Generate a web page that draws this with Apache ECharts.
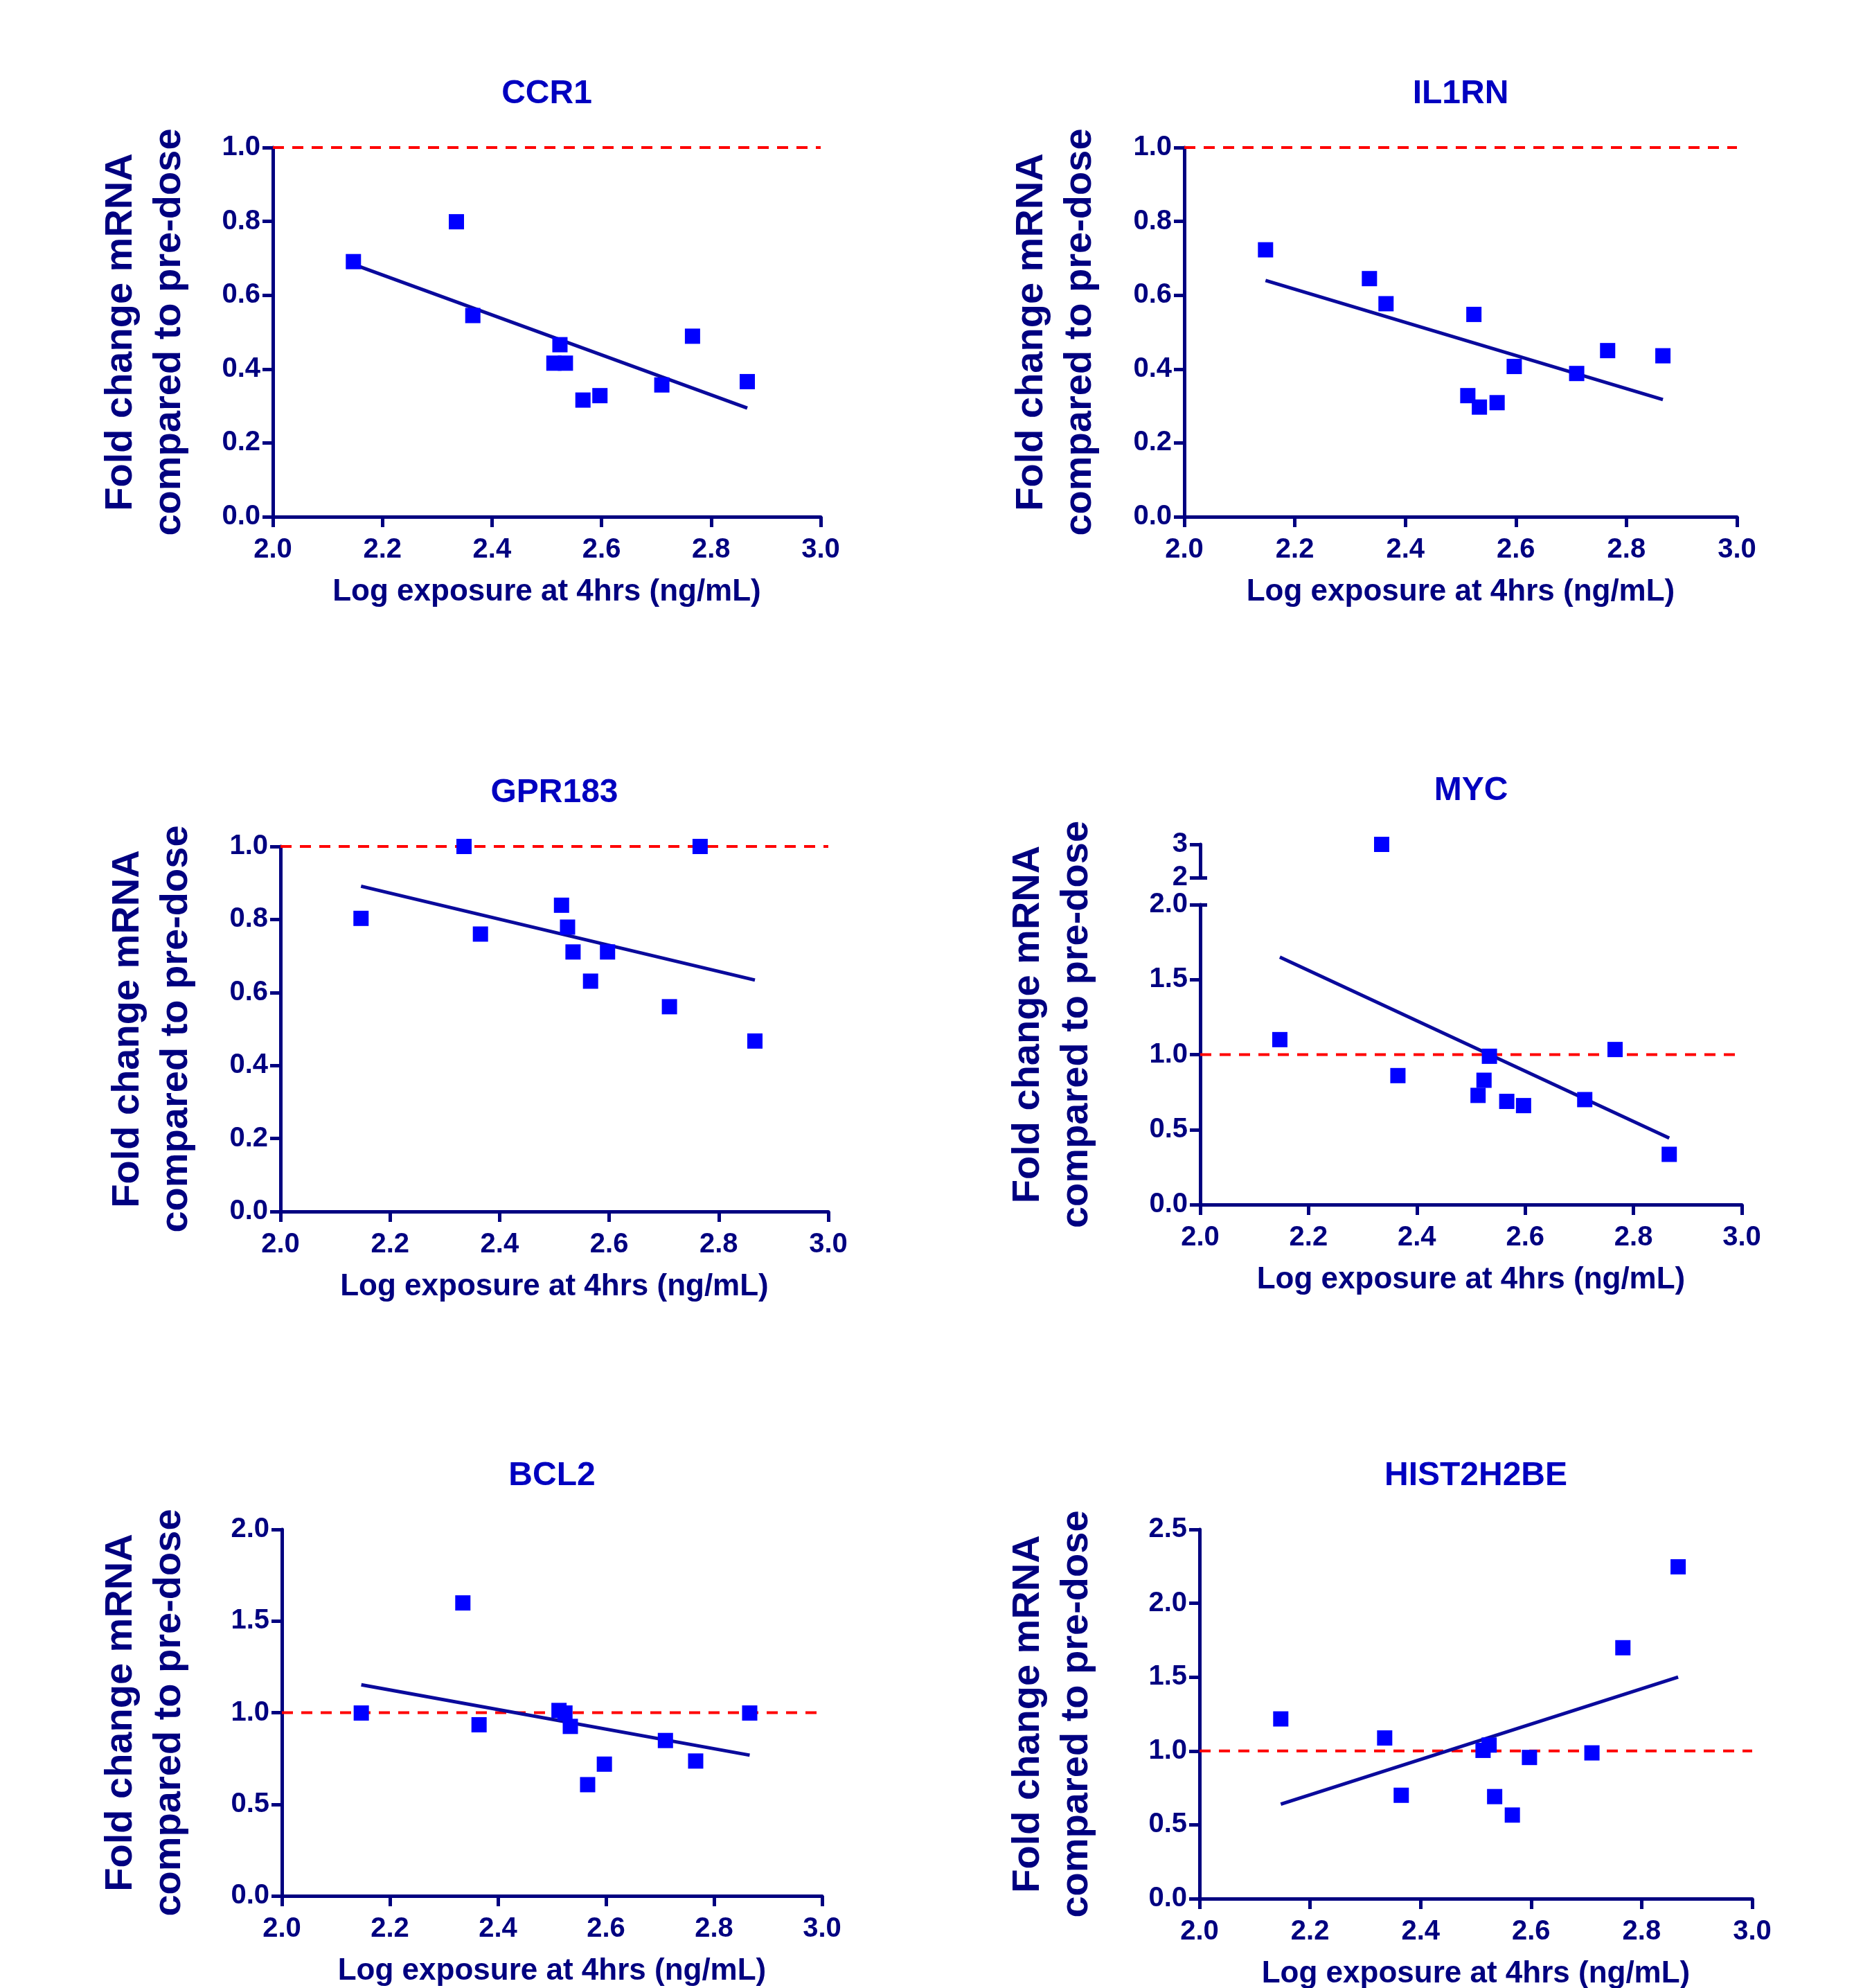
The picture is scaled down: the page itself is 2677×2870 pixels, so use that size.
<!DOCTYPE html>
<html>
<head>
<meta charset="utf-8">
<script src="https://cdn.jsdelivr.net/npm/echarts@6/dist/echarts.min.js"></script>
<style>
  html, body { margin: 0; padding: 0; background: #ffffff; }
  #chart { width: 2677px; height: 2870px; }
</style>
</head>
<body>
<div id="chart"></div>
<script>
// ---------------- DATA ----------------
const exposure = [2.147, 2.335, 2.365, 2.513, 2.524, 2.534, 2.566, 2.597, 2.710, 2.766, 2.866];
const ccr1     = [0.691, 0.799, 0.545, 0.416, 0.466, 0.416, 0.316, 0.328, 0.357, 0.489, 0.366];
const il1rn    = [0.723, 0.645, 0.577, 0.328, 0.548, 0.297, 0.309, 0.407, 0.388, 0.450, 0.436];
const gpr183   = [0.803, 1.000, 0.760, 0.839, 0.779, 0.711, 0.631, 0.711, 0.561, 1.000, 0.467];
const myc      = [1.100, 3.000, 0.860, 0.728, 0.829, 0.989, 0.688, 0.660, 0.700, 1.034, 0.335];
const bcl2     = [0.998, 1.599, 0.934, 1.012, 0.998, 0.925, 0.607, 0.719, 0.848, 0.736, 0.998];
const hist2h2be= [1.217, 1.088, 0.700, 1.004, 1.040, 0.691, 0.566, 0.956, 0.987, 1.699, 2.247];
const geneNames = ['CCR1', 'IL1RN', 'GPR183', 'MYC', 'BCL2', 'HIST2H2BE'];
const referenceLevel = 1.0;
const xRange = [2.0, 3.0];
const xStep = 0.2;
const xTitle = 'Log exposure at 4hrs (ng/mL)';
const yTitle = 'Fold change mRNA\ncompared to pre-dose';

// ---------------- LAYOUT ----------------
const NAVY = '#000080';
const FONT = '"Liberation Sans", Arial, sans-serif';
const panels = [
  { title: geneNames[0], y: ccr1,      left: 394,  top: 213,  width: 791, height: 533, yMax: 1.0, yStep: 0.2, titleX: 210 },
  { title: geneNames[1], y: il1rn,     left: 1710, top: 213,  width: 798, height: 533, yMax: 1.0, yStep: 0.2, titleX: 1525 },
  { title: geneNames[2], y: gpr183,    left: 405,  top: 1222, width: 791, height: 527, yMax: 1.0, yStep: 0.2, titleX: 220 },
  { title: geneNames[3], y: myc,       left: 1733, top: 1306, width: 782, height: 433, yMax: 2.0, yStep: 0.5, titleX: 1520,
    broken: { top: 1219, height: 48, min: 2, max: 3, step: 1 } },
  { title: geneNames[4], y: bcl2,      left: 407,  top: 2208, width: 780, height: 529, yMax: 2.0, yStep: 0.5, titleX: 210 },
  { title: geneNames[5], y: hist2h2be, left: 1732, top: 2208, width: 798, height: 533, yMax: 2.5, yStep: 0.5, titleX: 1520 }
];

function linFit(xs, ys) {
  const n = xs.length;
  const mx = xs.reduce((a, b) => a + b, 0) / n;
  const my = ys.reduce((a, b) => a + b, 0) / n;
  let sxy = 0, sxx = 0;
  for (let i = 0; i < n; i++) { sxy += (xs[i] - mx) * (ys[i] - my); sxx += (xs[i] - mx) ** 2; }
  const b = sxy / sxx;
  return { a: my - b * mx, b };
}

const AXW = 5;
const axisLineStyle = { show: true, lineStyle: { color: NAVY, width: AXW } };
const axisTickStyle = { show: true, inside: false, length: 15, lineStyle: { color: NAVY, width: AXW } };
const labelStyle = { color: NAVY, fontFamily: FONT, fontWeight: 'bold', fontSize: 40 };

const grid = [], xAxis = [], yAxis = [], series = [], graphic = [];

panels.forEach(p => {
  const gi = grid.length;
  grid.push({ left: p.left, top: p.top, width: p.width, height: p.height, containLabel: false, outerBoundsMode: 'none' });
  const xi = xAxis.length;
  xAxis.push({
    gridIndex: gi, type: 'value', min: xRange[0], max: xRange[1], interval: xStep,
    axisLine: axisLineStyle, axisTick: axisTickStyle, splitLine: { show: false },
    axisLabel: Object.assign({ margin: 28, formatter: v => v.toFixed(1) }, labelStyle)
  });
  const yi = yAxis.length;
  yAxis.push({
    gridIndex: gi, type: 'value', position: 'left', min: 0, max: p.yMax, interval: p.yStep,
    axisLine: axisLineStyle, axisTick: axisTickStyle, splitLine: { show: false },
    axisLabel: Object.assign({ margin: 18, formatter: v => v.toFixed(1) }, labelStyle)
  });

  const fit = linFit(exposure, p.y);
  const xMin = Math.min(...exposure), xMax = Math.max(...exposure);

  const lowerPts = [], upperPts = [];
  exposure.forEach((x, i) => {
    if (p.broken && p.y[i] > p.yMax) upperPts.push([x, p.y[i]]);
    else lowerPts.push([x, p.y[i]]);
  });

  series.push({
    type: 'line', xAxisIndex: xi, yAxisIndex: yi, silent: true, z: 2,
    data: [[xRange[0], referenceLevel], [xRange[1], referenceLevel]],
    showSymbol: false, symbol: 'none',
    lineStyle: { color: '#ff0000', width: 4, type: [16, 12] }
  });
  series.push({
    type: 'line', xAxisIndex: xi, yAxisIndex: yi, silent: true, z: 3,
    data: [[xMin, fit.a + fit.b * xMin], [xMax, fit.a + fit.b * xMax]],
    showSymbol: false, symbol: 'none',
    lineStyle: { color: '#0a0a9c', width: 5 }
  });
  series.push({
    type: 'scatter', xAxisIndex: xi, yAxisIndex: yi, silent: true, z: 4,
    data: lowerPts, symbol: 'rect', symbolSize: 22,
    itemStyle: { color: '#0000ff', opacity: 1 }
  });

  let topEdge = p.top;
  if (p.broken) {
    const b = p.broken;
    // inward tick at the top of the lower segment (break marker)
    yAxis.push({
      gridIndex: gi, type: 'value', position: 'left', offset: 0, min: 0, max: p.yMax, interval: p.yStep,
      axisLine: { show: false }, splitLine: { show: false }, axisLabel: { show: false },
      axisTick: { show: true, inside: true, length: 10, lineStyle: { color: NAVY, width: AXW }, customValues: [p.yMax] }
    });
    const ui = grid.length;
    grid.push({ left: p.left, top: b.top, width: p.width, height: b.height, containLabel: false, outerBoundsMode: 'none' });
    const uxi = xAxis.length;
    xAxis.push({ gridIndex: ui, type: 'value', min: xRange[0], max: xRange[1], interval: xStep, show: false });
    const uyi = yAxis.length;
    yAxis.push({
      gridIndex: ui, type: 'value', position: 'left', min: b.min, max: b.max, interval: b.step,
      axisLine: axisLineStyle, axisTick: axisTickStyle, splitLine: { show: false },
      axisLabel: Object.assign({ margin: 18, formatter: v => String(v) }, labelStyle)
    });
    yAxis.push({
      gridIndex: ui, type: 'value', position: 'left', offset: 0, min: b.min, max: b.max, interval: b.step,
      axisLine: { show: false }, splitLine: { show: false }, axisLabel: { show: false },
      axisTick: { show: true, inside: true, length: 10, lineStyle: { color: NAVY, width: AXW }, customValues: [b.min] }
    });
    series.push({
      type: 'scatter', xAxisIndex: uxi, yAxisIndex: uyi, silent: true, z: 4,
      data: upperPts, symbol: 'rect', symbolSize: 22,
      itemStyle: { color: '#0000ff', opacity: 1 }
    });
    topEdge = b.top;
  }

  const cx = p.left + p.width / 2;
  const bottom = p.top + p.height;
  graphic.push({
    type: 'text', x: cx, y: topEdge - 77, silent: true,
    style: { text: p.title, font: 'bold 48px ' + FONT, fill: '#0000c0', align: 'center', verticalAlign: 'middle' }
  });
  graphic.push({
    type: 'text', x: cx, y: bottom + 109, silent: true,
    style: { text: xTitle, font: 'bold 44px ' + FONT, fill: NAVY, align: 'center', verticalAlign: 'middle' }
  });
  graphic.push({
    type: 'text', x: p.titleX, y: (topEdge + bottom) / 2, rotation: Math.PI / 2, silent: true,
    style: { text: yTitle, font: 'bold 56px ' + FONT, fill: NAVY, align: 'center', verticalAlign: 'middle', lineHeight: 70 }
  });
});

const chart = echarts.init(document.getElementById('chart'), null, { renderer: 'canvas' });
chart.setOption({
  animation: false,
  backgroundColor: '#ffffff',
  grid, xAxis, yAxis, series, graphic
});
</script>
</body>
</html>
